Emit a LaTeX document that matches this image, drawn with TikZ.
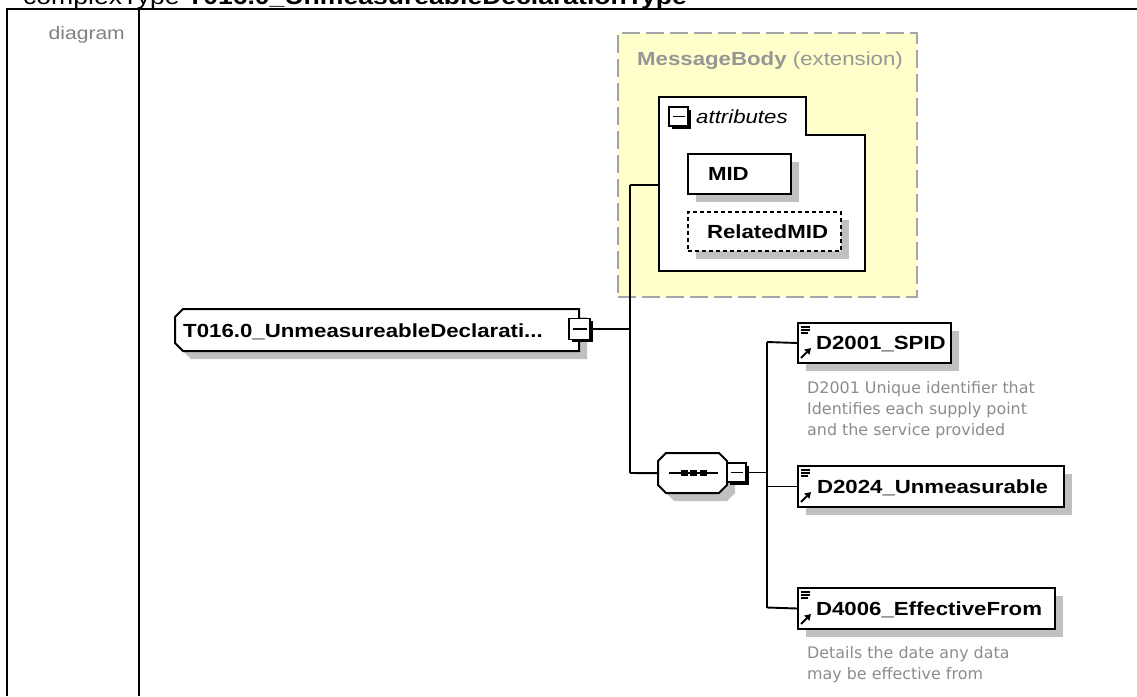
\documentclass[tikz,border=0pt]{standalone}
\usepackage{fontspec}
\setmainfont{Liberation Sans}[FakeStretch=1.17]
\newfontfamily\descfont{DejaVu Sans}
\usetikzlibrary{shadows,arrows.meta,calc}
\definecolor{shadowgray}{RGB}{192,192,192}
\definecolor{mbyellow}{RGB}{255,255,204}
\definecolor{mbborder}{RGB}{165,165,165}
\definecolor{mbtext}{RGB}{150,150,150}
\definecolor{desctext}{RGB}{140,140,140}
\definecolor{diagtext}{RGB}{128,128,128}
\begin{document}
\begin{tikzpicture}[x=1pt,y=-1pt,
  conn/.style={line width=1.9pt, black},
  tableline/.style={line width=2.4pt, black},
  elbox/.style={draw, fill=white, line width=2pt, anchor=north west, inner sep=0pt,
    text height=13.6pt, text depth=0pt, align=left,
    font=\fontsize{19pt}{22pt}\selectfont\bfseries,
    drop shadow={shadow xshift=8pt, shadow yshift=-8pt, fill=shadowgray, opacity=1}},
  optbox/.style={elbox, dashed, dash pattern=on 4pt off 3pt},
  refel/.style={elbox, path picture={
      \draw[line width=1.2pt] ([shift={(3pt,-4pt)}]path picture bounding box.north west) -- ++(9pt,0pt);
      \draw[line width=1.2pt] ([shift={(3pt,-7pt)}]path picture bounding box.north west) -- ++(9pt,0pt);
      \draw[line width=1.2pt] ([shift={(3pt,-10pt)}]path picture bounding box.north west) -- ++(7pt,0pt);
      \draw[line width=2pt, -{Triangle[length=6pt,width=7pt]}] ([shift={(3pt,5pt)}]path picture bounding box.south west) -- ++(10pt,10pt);
    }},
  expbox/.style={draw, fill=white, line width=1.8pt, minimum size=19pt, inner sep=0pt,
    drop shadow={shadow xshift=2.5pt, shadow yshift=-2.5pt, fill=black, opacity=1},
    path picture={\draw[line width=1.6pt] ([xshift=3.5pt]path picture bounding box.west) -- ([xshift=-3.5pt]path picture bounding box.east);}},
  desc/.style={anchor=base west, inner sep=0pt, text=desctext, font=\descfont\fontsize{15.9pt}{18pt}\selectfont},
  shadowfill/.style={fill=shadowgray},
  shapeline/.style={draw=black, fill=white, line width=2pt}
]
\useasboundingbox (0,0) rectangle (1137,696);

% table frame
\draw[tableline] (7,696) -- (7,9) -- (1137,9);
\draw[tableline] (139,9) -- (139,696);
\node[anchor=base west, inner sep=0pt, font=\fontsize{22.7pt}{26pt}\selectfont] (title) at (23,5)
  {complexType \textbf{T016.0\_UnmeasureableDeclarationType}};
\node[anchor=base east, inner sep=0pt, text=diagtext, font=\fontsize{18pt}{21pt}\selectfont] (diaglabel) at (125,39) {diagram};

% MessageBody extension
\node[draw=mbborder, fill=mbyellow, line width=2pt, dash pattern=on 18pt off 6pt,
  anchor=north west, minimum width=299pt, minimum height=264pt, inner sep=0pt] (mb) at (617,32) {};
\node[anchor=base west, inner sep=0pt, text=mbtext, font=\fontsize{19pt}{22pt}\selectfont] (mbtitle) at (637,65)
  {\textbf{MessageBody} (extension)};

% attributes group
\draw[shapeline] (659,97) -- (806,97) -- (806,135) -- (865,135) -- (865,271) -- (659,271) -- cycle;
\coordinate (attr) at (659,185);
\node[expbox] (attrexp) at (678.5,116.5) {};
\node[anchor=base west, inner sep=0pt, font=\fontsize{19pt}{22pt}\selectfont\itshape] (attrlabel) at (696,123) {attributes};
\node[elbox, text width=103pt, minimum height=40pt] (mid) at (687,153) {\hspace*{20pt}MID};
\node[optbox, text width=153pt, minimum height=39pt] (relmid) at (687,211) {\hspace*{19pt}RelatedMID};

% root element
\fill[shadowfill] (183,317) -- (587,317) -- (587,359) -- (191,359) -- (183,351) -- cycle;
\draw[shapeline] (183,309) -- (579,309) -- (579,351) -- (183,351) -- (175,343) -- (175,317) -- cycle;
\node[anchor=north west, inner sep=0pt, minimum width=404pt, minimum height=42pt, text width=404pt,
  align=left, text height=13.6pt, text depth=0pt, font=\fontsize{19pt}{22pt}\selectfont\bfseries] (root) at (175,309)
  {\hspace*{8pt}T016.0\_UnmeasureableDeclarati...};
\node[expbox, minimum size=21pt] (rootexp) at (579.5,329) {};

% sequence compositor
\node[anchor=north west, inner sep=0pt, minimum width=69pt, minimum height=40pt] (seq) at (658,453) {};
\fill[shadowfill] ($(seq.north west)+(8,8)$) ++(8,0) -- ++(53,0) -- ++(8,8) -- ++(0,24) -- ++(-8,8) -- ++(-53,0) -- ++(-8,-8) -- ++(0,-24) -- cycle;
\draw[shapeline] (seq.north west) ++(8,0) -- ++(53,0) -- ++(8,8) -- ++(0,24) -- ++(-8,8) -- ++(-53,0) -- ++(-8,-8) -- ++(0,-24) -- cycle;
\draw[line width=1.6pt] (669,473) -- (718,473);
\fill (680.5,470) rectangle ++(7,6);
\fill (690,470) rectangle ++(7,6);
\fill (699.5,470) rectangle ++(7,6);
\node[expbox] (seqexp) at (736.5,472.5) {};

% child elements
\node[refel, text width=153pt, minimum height=40pt] (spid) at (797,322) {\hspace*{18pt}D2001\_SPID};
\node[desc] (spiddesc1) at (807,393) {D2001 Unique identifier that};
\node[desc] (spiddesc2) at (807,414) {Identifies each supply point};
\node[desc] (spiddesc3) at (807,435) {and the service provided};
\node[refel, text width=266pt, minimum height=41pt] (unmeas) at (797,465) {\hspace*{19pt}D2024\_Unmeasurable};
\node[refel, text width=257pt, minimum height=41pt] (efffrom) at (797,587) {\hspace*{18pt}D4006\_EffectiveFrom};
\node[desc] (effdesc1) at (807,658) {Details the date any data};
\node[desc] (effdesc2) at (807,679) {may be effective from};

% connectors
\coordinate (j1top) at (630,185);
\coordinate (j1bot) at (630,473);
\draw[conn] (rootexp.east) -- (rootexp.east -| j1top);
\draw[conn] (j1top) -- (j1bot);
\draw[conn] (j1top) -- (attr);
\draw[conn] (j1bot) -- (seq.west);
\coordinate (j2top) at (767,342);
\coordinate (j2bot) at (767,607.5);
\draw[conn] (seqexp.east) -- (seqexp.east -| j2top);
\draw[conn] (j2top) -- (j2bot);
\draw[conn] (j2top) -- (spid.west);
\draw[conn] (unmeas.west -| j2top) -- (unmeas.west);
\draw[conn] (j2bot) -- (efffrom.west);
\end{tikzpicture}
\end{document}
